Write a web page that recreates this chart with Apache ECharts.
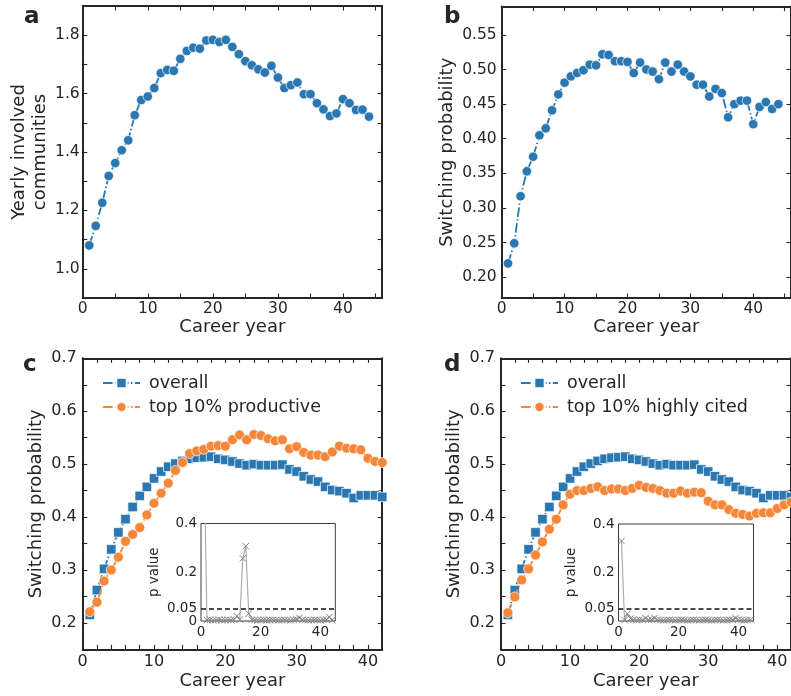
<!DOCTYPE html>
<html><head><meta charset="utf-8">
<script src="https://cdn.jsdelivr.net/npm/echarts@6/dist/echarts.min.js"></script>
<style>html,body{margin:0;padding:0;background:#fff}#c{width:791px;height:696px}</style>
</head><body><div id="c"></div>
<script>
// ---------------- data ----------------
const yearsAB = [1,2,3,4,5,6,7,8,9,10,11,12,13,14,15,16,17,18,19,20,21,22,23,24,25,26,27,28,29,30,31,32,33,34,35,36,37,38,39,40,41,42,43,44];
const communities = [1.080,1.147,1.226,1.318,1.362,1.406,1.440,1.526,1.578,1.590,1.619,1.670,1.681,1.678,1.719,1.746,1.757,1.754,1.782,1.784,1.777,1.784,1.760,1.735,1.711,1.697,1.683,1.672,1.695,1.655,1.619,1.629,1.638,1.598,1.598,1.567,1.546,1.523,1.532,1.581,1.567,1.544,1.545,1.521];
const switchProb = [0.220,0.249,0.317,0.353,0.374,0.405,0.415,0.441,0.464,0.481,0.490,0.495,0.499,0.507,0.506,0.522,0.521,0.512,0.512,0.511,0.495,0.510,0.500,0.497,0.486,0.510,0.497,0.507,0.497,0.490,0.478,0.478,0.461,0.472,0.466,0.431,0.450,0.455,0.455,0.421,0.446,0.453,0.443,0.450];

const yearsCD = [1,2,3,4,5,6,7,8,9,10,11,12,13,14,15,16,17,18,19,20,21,22,23,24,25,26,27,28,29,30,31,32,33,34,35,36,37,38,39,40,41,42];
const overall = [0.215,0.262,0.302,0.339,0.371,0.396,0.419,0.440,0.457,0.473,0.486,0.495,0.501,0.506,0.510,0.512,0.513,0.514,0.510,0.508,0.505,0.501,0.498,0.500,0.498,0.498,0.498,0.499,0.490,0.486,0.477,0.471,0.467,0.457,0.451,0.449,0.445,0.436,0.441,0.441,0.441,0.438];
const topProductive = [0.221,0.239,0.279,0.300,0.324,0.354,0.367,0.380,0.404,0.426,0.445,0.464,0.488,0.503,0.520,0.525,0.528,0.534,0.535,0.534,0.546,0.555,0.546,0.556,0.554,0.548,0.544,0.546,0.529,0.533,0.522,0.517,0.517,0.514,0.523,0.534,0.530,0.529,0.527,0.511,0.505,0.503];
const topCited = [0.219,0.249,0.281,0.302,0.328,0.353,0.377,0.396,0.423,0.443,0.450,0.450,0.454,0.457,0.450,0.453,0.453,0.450,0.454,0.460,0.456,0.454,0.450,0.445,0.445,0.449,0.445,0.447,0.446,0.430,0.423,0.423,0.414,0.407,0.405,0.402,0.407,0.408,0.408,0.416,0.423,0.428];

const insetYears = [1,2,3,4,5,6,7,8,9,10,11,12,13,14,15,16,17,18,19,20,21,22,23,24,25,26,27,28,29,30,31,32,33,34,35,36,37,38,39,40,41,42,43,44];
const pValueProductive = [0.70,0.004,0.005,0.003,0.004,0.006,0.003,0.004,0.005,0.004,0.006,0.020,0.006,0.257,0.307,0.030,0.006,0.004,0.003,0.004,0.005,0.003,0.004,0.005,0.004,0.003,0.004,0.005,0.004,0.003,0.005,0.008,0.013,0.005,0.004,0.003,0.004,0.005,0.004,0.003,0.005,0.006,0.016,0.004];
const pValueCited = [0.330,0.004,0.030,0.010,0.005,0.004,0.005,0.004,0.012,0.005,0.006,0.012,0.005,0.004,0.003,0.004,0.005,0.004,0.003,0.004,0.005,0.004,0.003,0.004,0.005,0.004,0.003,0.004,0.005,0.004,0.003,0.004,0.005,0.004,0.003,0.004,0.005,0.004,0.012,0.005,0.004,0.003,0.004,0.005];
const pThreshold = 0.05;

// ticks / labels
const xTicksAB = [5,10,15,20,25,30,35,40,45];
const xLabelsAB = [0,10,20,30,40];
const yTicksA = [1.0,1.1,1.2,1.3,1.4,1.5,1.6,1.7,1.8];
const yLabelsA = [1.0,1.2,1.4,1.6,1.8];
const yTicksB = [0.20,0.25,0.30,0.35,0.40,0.45,0.50,0.55];
const yLabelsB = [0.20,0.25,0.30,0.35,0.40,0.45,0.50,0.55];
const xTicksCD = [2,4,6,8,10,12,14,16,18,20,22,24,26,28,30,32,34,36,38,40];
const xLabelsCD = [0,10,20,30,40];
const yTicksCD = [0.2,0.25,0.3,0.35,0.4,0.45,0.5,0.55,0.6,0.65];
const yLabelsCD = [0.2,0.3,0.4,0.5,0.6,0.7];
const xLabelsInset = [0,20,40];
const yLabelsInset = [0.05,0.2,0.4];
const yZeroLabelInset = [0];

// ---------------- style ----------------
const FONT = 'DejaVu Sans';
const TXT = '#262626';
const BLUE = '#2a77b2';
const ORANGE = '#f5873a';
const DASHDOT = [9.6, 2.4, 1.5, 2.4];

const grids = [], xAxes = [], yAxes = [], series = [];

function txt(size){ return {fontSize:size, color:TXT, fontFamily:FONT}; }

function addPanel(box, c) {
  const gi = grids.length;
  grids.push(Object.assign({containLabel:false, show: !!c.frameGrid, backgroundColor:'#fff', borderColor:TXT, borderWidth:c.frameGrid?0.9:0}, box));
  const lw = c.lineWidth;
  const tick = (vals, show) => ({show: show, inside:true, length:c.tickLen, customValues: vals, lineStyle:{color:TXT, width:1.1}});
  const xi = xAxes.length;
  xAxes.push({type:'value', gridIndex:gi, position:'bottom', min:c.xMin, max:c.xMax,
    axisLine:{show:!c.frameGrid, onZero:false, lineStyle:{color:TXT, width:lw}},
    axisTick: tick(c.xTicks, !!c.xTicks),
    axisLabel:{customValues:c.xLabels, margin:c.xMargin, hideOverlap:false, formatter:v=>String(v), ...txt(c.labelSize)},
    splitLine:{show:false},
    name:c.xName||'', nameLocation:'middle', nameGap:c.xNameGap||0, nameTextStyle:txt(c.nameSize)});
  xAxes.push({type:'value', gridIndex:gi, position:'top', min:c.xMin, max:c.xMax,
    axisLine:{show:!c.frameGrid, onZero:false, lineStyle:{color:TXT, width:lw}},
    axisTick: tick(c.xTicks, !!c.xTicks && !c.frameGrid),
    axisLabel:{show:false}, splitLine:{show:false}});
  const yi = yAxes.length;
  yAxes.push({type:'value', gridIndex:gi, position:'left', min:c.yMin, max:c.yMax,
    axisLine:{show:!c.frameGrid, onZero:false, lineStyle:{color:TXT, width:lw}},
    axisTick: tick(c.yTicks, !!c.yTicks),
    axisLabel:{customValues:c.yLabels, margin:c.yMargin, hideOverlap:false, formatter:c.yFmt, ...txt(c.labelSize)},
    splitLine:{show:false},
    name:c.yName||'', nameLocation:'middle', nameRotate:90, nameGap:c.yNameGap||0,
    nameTextStyle:Object.assign(txt(c.nameSize), {lineHeight:c.nameLH||c.nameSize})});
  yAxes.push({type:'value', gridIndex:gi, position:'right', min:c.yMin, max:c.yMax,
    axisLine:{show:!c.frameGrid, onZero:false, lineStyle:{color:TXT, width:lw}},
    axisTick: tick(c.yTicks, !!c.yTicks && !c.frameGrid),
    axisLabel:{show:false}, splitLine:{show:false}});
  if (c.extraYLabels) {
    // separate label-only axis so a close-by label is not dropped by overlap handling
    yAxes.push({type:'value', gridIndex:gi, position:'left', offset:0, min:c.yMin, max:c.yMax,
      axisLine:{show:false}, axisTick:{show:false}, splitLine:{show:false},
      axisLabel:{customValues:c.extraYLabels, margin:c.yMargin, formatter:c.yFmt, ...txt(c.labelSize)}});
  }
  return {x:xi, y:yi};
}

function lineSeries(ax, xs, ys, color, symbol, size, name, z) {
  return {type:'line', name:name, xAxisIndex:ax.x, yAxisIndex:ax.y,
    data: xs.map((x,i)=>[x, ys[i]]),
    symbol:symbol, symbolSize:size, showSymbol:true,
    itemStyle:{color:color, borderColor:'#fff', borderWidth:0.7},
    lineStyle:{color:color, width:1.8, type:DASHDOT},
    emphasis:{disabled:true}, z:z||2, animation:false};
}

function insetSeries(ax, xs, ps) {
  return {type:'line', xAxisIndex:ax.x, yAxisIndex:ax.y,
    data: xs.map((x,i)=>[x, ps[i]]), clip:true,
    symbol:'path://M0,0L10,10M10,0L0,10', symbolSize:6.5,
    itemStyle:{color:'rgba(0,0,0,0)', borderColor:'#808080', borderWidth:1},
    lineStyle:{color:'#a8a8a8', width:1.1},
    emphasis:{disabled:true}, z:5,
    markLine:{silent:true, symbol:['none','none'], label:{show:false},
      lineStyle:{color:'#111', type:[5,3], width:1.6},
      data:[{yAxis:pThreshold}]}};
}

const fmt1 = v => v.toFixed(1);
const fmt2 = v => v.toFixed(2);

// panel a
const axA = addPanel({left:82.7, top:6, width:299.3, height:292}, {
  xMin:0, xMax:46, yMin:0.9, yMax:1.9, lineWidth:2, tickLen:4.5,
  xTicks:xTicksAB, xLabels:xLabelsAB, yTicks:yTicksA, yLabels:yLabelsA, yFmt:fmt1,
  labelSize:15.5, nameSize:18, xMargin:3, yMargin:3,
  xName:'Career year', xNameGap:20, yName:'Yearly involved\ncommunities', yNameGap:30, nameLH:21});
series.push(lineSeries(axA, yearsAB, communities, BLUE, 'circle', 9.5));

// panel b
const axB = addPanel({left:501.7, top:6.5, width:299.3, height:291.5}, {
  xMin:0, xMax:46, yMin:0.17, yMax:0.591, lineWidth:2, tickLen:4.5,
  xTicks:xTicksAB, xLabels:xLabelsAB, yTicks:yTicksB, yLabels:yLabelsB, yFmt:fmt2,
  labelSize:15.5, nameSize:18, xMargin:3, yMargin:5,
  xName:'Career year', xNameGap:20, yName:'Switching probability', yNameGap:38, nameLH:21});
series.push(lineSeries(axB, yearsAB, switchProb, BLUE, 'circle', 9.5));

// panel c
const axC = addPanel({left:82.7, top:358.3, width:299.5, height:291}, {
  xMin:0, xMax:42, yMin:0.15, yMax:0.7, lineWidth:2, tickLen:4.5,
  xTicks:xTicksCD, xLabels:xLabelsCD, yTicks:yTicksCD, yLabels:yLabelsCD, yFmt:fmt1,
  labelSize:16, nameSize:18, xMargin:5, yMargin:6,
  xName:'Career year', xNameGap:23, yName:'Switching probability', yNameGap:36, nameLH:21});
series.push(lineSeries(axC, yearsCD, overall, BLUE, 'rect', 9.5, 'overall', 2));
series.push(lineSeries(axC, yearsCD, topProductive, ORANGE, 'circle', 10, 'top 10% productive', 3));

// panel d
const axD = addPanel({left:501, top:358.3, width:299.5, height:291}, {
  xMin:0, xMax:42, yMin:0.15, yMax:0.7, lineWidth:2, tickLen:4.5,
  xTicks:xTicksCD, xLabels:xLabelsCD, yTicks:yTicksCD, yLabels:yLabelsCD, yFmt:fmt1,
  labelSize:16, nameSize:18, xMargin:5, yMargin:6,
  xName:'Career year', xNameGap:23, yName:'Switching probability', yNameGap:36, nameLH:21});
series.push(lineSeries(axD, yearsCD, overall, BLUE, 'rect', 9.5, 'overall ', 2));
series.push(lineSeries(axD, yearsCD, topCited, ORANGE, 'circle', 10, 'top 10% highly cited', 3));

// insets
const insetCfg = {xMin:0, xMax:45, yMin:0, yMax:0.4, lineWidth:1, tickLen:3, frameGrid:true,
  xTicks:null, xLabels:xLabelsInset, yTicks:yLabelsInset, yLabels:yLabelsInset, extraYLabels:yZeroLabelInset,
  yFmt:v=>String(v), labelSize:13.5, nameSize:13.5, xMargin:4, yMargin:4, yName:'p value', yNameGap:40};
const axIC = addPanel({left:201, top:523.5, width:134.3, height:97.5, z:4}, insetCfg);
series.push(insetSeries(axIC, insetYears, pValueProductive));
const axID = addPanel({left:618.5, top:524, width:135, height:97, z:4}, insetCfg);
series.push(insetSeries(axID, insetYears, pValueCited));

const legendBase = {orient:'vertical', itemWidth:37, itemHeight:13, itemGap:6,
  textStyle:Object.assign(txt(17.5), {padding:[0,0,0,4]}), selectedMode:false};

const option = {
  backgroundColor:'#fff', animation:false,
  title:[
    {text:'a', left:19, top:1, textStyle:{fontSize:23, fontWeight:'bold', color:TXT, fontFamily:FONT}},
    {text:'b', left:439, top:1, textStyle:{fontSize:23, fontWeight:'bold', color:TXT, fontFamily:FONT}},
    {text:'c', left:18, top:349, textStyle:{fontSize:23, fontWeight:'bold', color:TXT, fontFamily:FONT}},
    {text:'d', left:439, top:349, textStyle:{fontSize:23, fontWeight:'bold', color:TXT, fontFamily:FONT}}
  ],
  legend:[
    Object.assign({}, legendBase, {left:97, top:369, data:['overall','top 10% productive']}),
    Object.assign({}, legendBase, {left:515, top:369, data:['overall ','top 10% highly cited'],
      formatter: n => n.trim()})
  ],
  grid:grids, xAxis:xAxes, yAxis:yAxes, series:series
};
const chart = echarts.init(document.getElementById('c'), null, {renderer:'canvas'});
chart.setOption(option);
</script></body></html>
